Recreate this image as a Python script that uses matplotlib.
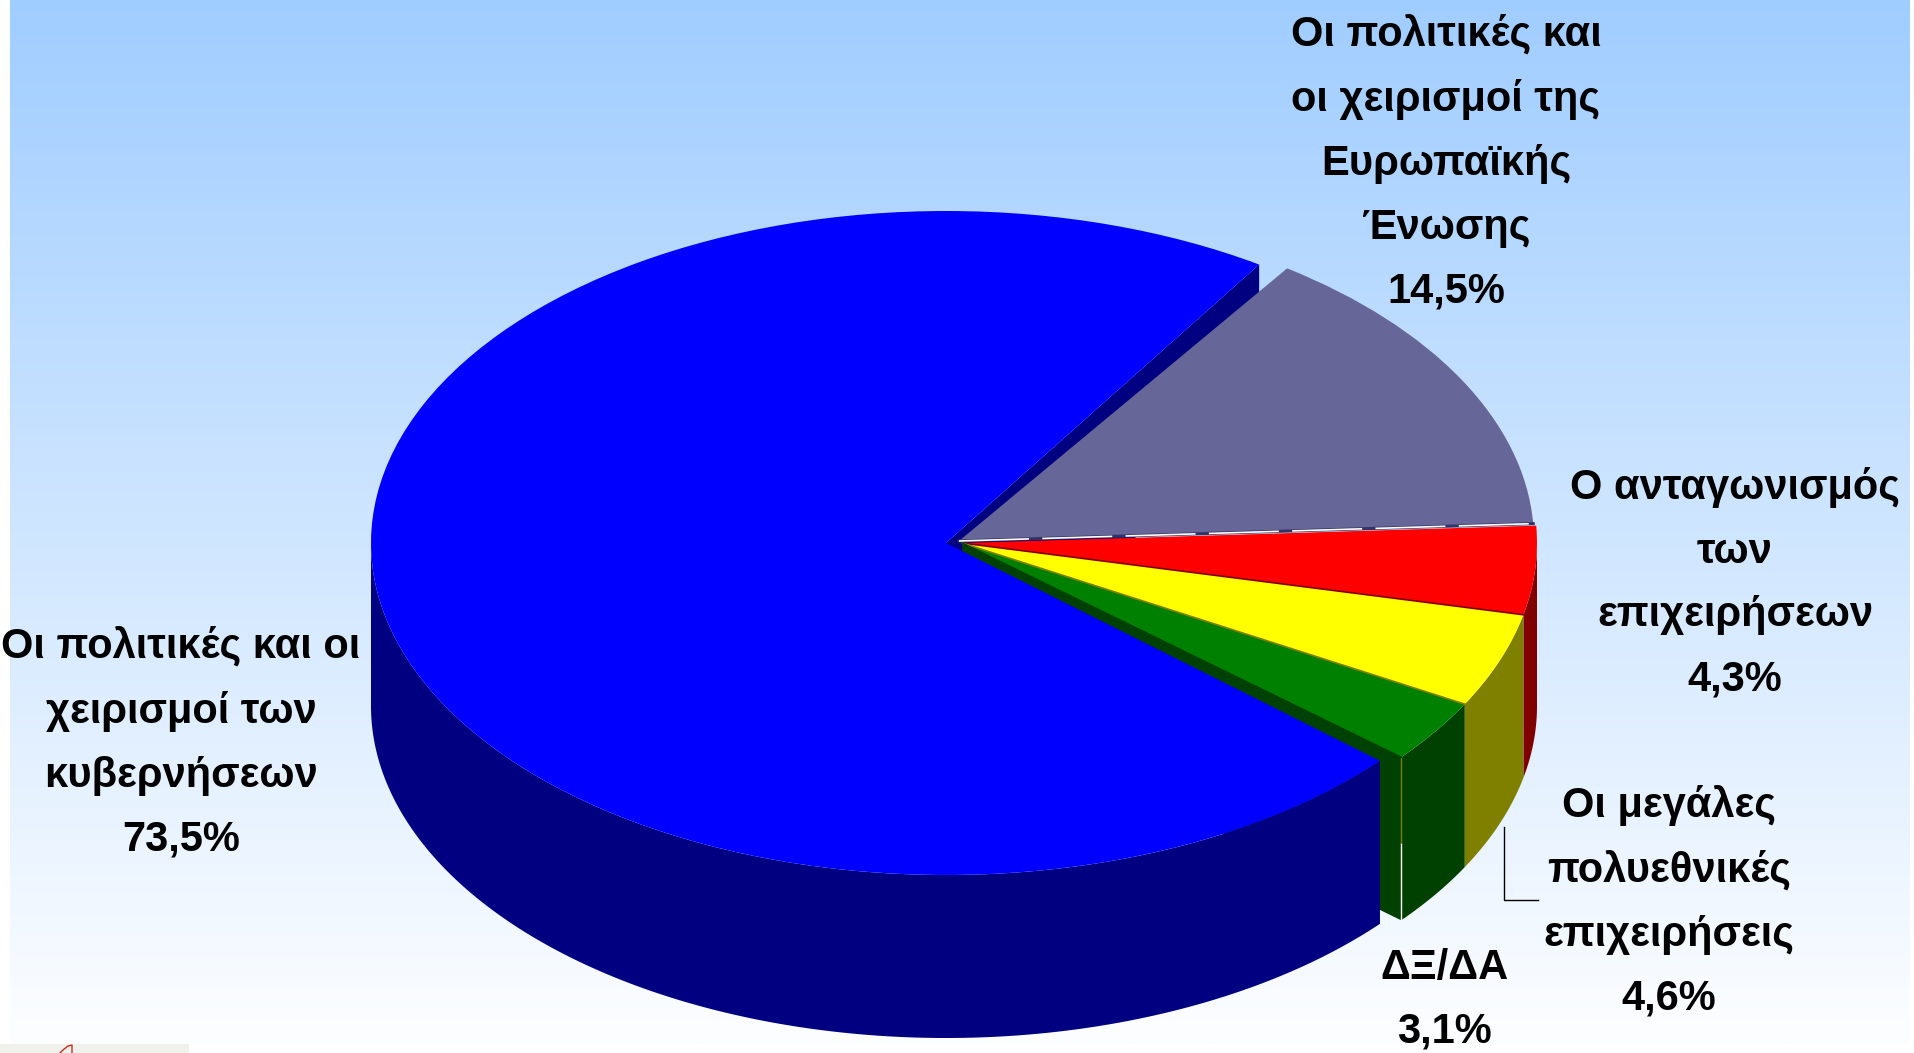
import numpy as np
import matplotlib
matplotlib.use("Agg")
import matplotlib.pyplot as plt
from matplotlib.patches import Wedge, Polygon, Rectangle

W, H = 1915, 1053
labels = ["Οι πολιτικές και οι\nχειρισμοί των\nκυβερνήσεων\n73,5%",
          "Οι πολιτικές και\nοι χειρισμοί της\nΕυρωπαϊκής\nΈνωσης\n14,5%",
          "Ο ανταγωνισμός\nτων\nεπιχειρήσεων\n4,3%",
          "Οι μεγάλες\nπολυεθνικές\nεπιχειρήσεις\n4,6%",
          "ΔΞ/ΔΑ\n3,1%"]
values = [73.5, 14.5, 4.3, 4.6, 3.1]
top_colors = ["#0000FF", "#666699", "#FF0000", "#FFFF00", "#008000"]
wall_colors = ["#000080", "#333366", "#800000", "#808000", "#004000"]
label_px = [(181, 743), (1446, 163), (1735, 583), (1669, 902), (1444, 1000)]

CX, CY, RX, RY, DEPTH = 946, 543, 575, 332, 163
offsets_px = [(0, 0), (13, 2), (16, 0), (16, 0), (16, 0)]
depth = DEPTH / RY
spans = [v * 3.6 for v in values]

fig = plt.figure(figsize=(W / 100, H / 100), dpi=100, facecolor="white")

bg = fig.add_axes([0, 0, 1, 1], zorder=0)
bg.set_xlim(0, W); bg.set_ylim(H, 0); bg.axis("off")
c0 = np.array([160, 205, 255]) / 255
c1 = np.array([253, 254, 255]) / 255
t = np.linspace(0, 1, 512)[:, None, None]
bg.imshow(c0 + (c1 - c0) * t, extent=(10, 1910, 1044, 0), aspect="auto", interpolation="bilinear")
bg.set_xlim(0, W); bg.set_ylim(H, 0)
bg.add_patch(Rectangle((0, 1044), 189, 9, fc="#F1F1EC", ec="none"))
bg.plot([60, 63, 68, 72, 72], [1053, 1050, 1046, 1045, 1053], color="#C83020", lw=1)

ax = fig.add_axes([0, 0, 1, 1], zorder=1)
ax.set_xlim(-CX / RX, (W - CX) / RX)
ax.set_ylim((CY - H) / RY, CY / RY)
ax.axis("off")

# angles: the main slice runs counter-clockwise from 57 deg (with a small gap where
# it meets its neighbours); the others run clockwise from 3 deg
start = 57.0
gap = 2.6
angles = [(start, start + spans[0] - gap)]
a = 3.0
angles.append((a, a + spans[1]))
for s in spans[2:]:
    angles.append((a - s, a))
    a -= s
centers = [(dx / RX, dy / RY) for dx, dy in offsets_px]


def rim(i, th):
    th = np.radians(th)
    return centers[i][0] + np.cos(th), centers[i][1] + np.sin(th)


def outer_wall(i):
    th1, th2 = angles[i]
    if i == 0:
        th = np.linspace(180, th2, 300)
    else:
        th = np.linspace(th1, min(th2, 0), 80)
    x, y = rim(i, th)
    pts = np.r_[np.c_[x, y], np.c_[x, y - depth][::-1]]
    ax.add_patch(Polygon(pts, closed=True, fc=wall_colors[i], ec="none", zorder=3))


def radial_wall(i, th, z):
    cx, cy = centers[i]
    x, y = rim(i, th)
    pts = [(cx, cy), (x, y), (x, y - depth), (cx, cy - depth)]
    ax.add_patch(Polygon(pts, closed=True, fc=wall_colors[i], ec="none", zorder=z))


# walls, back to front
radial_wall(0, angles[0][0], 2)
radial_wall(4, angles[4][0], 2)
for i in (2, 3, 4, 0):
    outer_wall(i)

# top faces
draw_order = [0, 4, 3, 2, 1]
for i in draw_order:
    th1, th2 = angles[i]
    ax.add_patch(Wedge(centers[i], 1.0, th1, th2, fc=top_colors[i], ec="none", zorder=5 + draw_order.index(i)))

# thin dark seams along the lower radial edge of each right-hand slice
for i in (2, 3, 4):
    x, y = rim(i, angles[i][0])
    ax.plot([centers[i][0], x], [centers[i][1], y], color=wall_colors[i], lw=1.2, zorder=11)

# grey slice lower edge: dark strip with white dashes
x, y = rim(1, angles[1][0])
ax.plot([centers[1][0], x], [centers[1][1], y], color=wall_colors[1], lw=2.2, zorder=11)
ax.plot([centers[1][0], x], [centers[1][1], y], color="white", lw=1.2, zorder=12,
        dashes=(42, 8))

# light seam on the front corner of the green slice
x, y = rim(4, angles[4][0])
ax.plot([x, x], [y, y - 0.26], color="#808000", lw=1, zorder=4)
ax.plot([x, x], [y - 0.26, y - depth], color="white", lw=1, zorder=4)

# overlay in pixel units: leader line and labels
top = fig.add_axes([0, 0, 1, 1], zorder=2)
top.set_xlim(0, W); top.set_ylim(H, 0); top.axis("off"); top.patch.set_alpha(0)
top.plot([1504, 1504, 1538], [827, 900, 900], color="black", lw=1)

for lab, (px, py) in zip(labels, label_px):
    top.text(px, py, lab, ha="center", va="center", multialignment="center",
             family="Liberation Sans", weight="bold", fontsize=30, linespacing=1.77,
             color="black")

fig.savefig("out.png", dpi=100)
